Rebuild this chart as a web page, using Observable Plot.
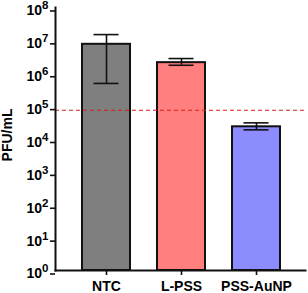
<!DOCTYPE html>
<html>
<head>
<meta charset="utf-8">
<script src="https://cdn.jsdelivr.net/npm/d3@7"></script>
<script src="https://cdn.jsdelivr.net/npm/@observablehq/plot@0.6"></script>
<style>
  html, body { margin: 0; padding: 0; background: #fff; }
  #chart svg, #chart svg text { font-family: "Liberation Sans", Arial, sans-serif !important; font-weight: bold !important; }
</style>
</head>
<body>
<div id="chart"></div>
<script>
const categories = ["NTC", "L-PSS", "PSS-AuNP"];
const means = [7.6e6, 2.1e6, 2.35e4];
const errLow = [4.9e5, 1.75e6, 1.9e4];
const errHigh = [1.5e7, 2.8e6, 3.1e4];
const barColors = ["#7f7f7f", "#ff7f7f", "#8c8cff"];
const threshold = 7.5e4;
const yTicks = [1e0, 1e1, 1e2, 1e3, 1e4, 1e5, 1e6, 1e7, 1e8];
const yLabel = "PFU/mL";

const data = categories.map((c, i) => ({
  cat: c, mean: means[i], lo: errLow[i], hi: errHigh[i], color: barColors[i]
}));

const chart = Plot.plot({
  width: 308,
  height: 293,
  marginLeft: 55,
  marginRight: 3,
  marginTop: 7,
  marginBottom: 23,
  style: {fontSize: "14px", color: "#000", background: "#fff"},
  x: {domain: categories, range: [68.5, 293.5], paddingInner: 0.36, paddingOuter: 0.18, align: 0.5},
  y: {type: "log", domain: [1, 1e8]},
  marks: [
    Plot.barY(data, {x: "cat", y1: 1, y2: "mean", fill: "color", stroke: "#111", strokeWidth: 2}),
    Plot.ruleX(data, {x: "cat", y1: "lo", y2: "hi", stroke: "#111", strokeWidth: 1.6}),
    Plot.tickY(data, {x: "cat", y: "lo", stroke: "#111", strokeWidth: 1.6, insetLeft: 11.5, insetRight: 11.5}),
    Plot.tickY(data, {x: "cat", y: "hi", stroke: "#111", strokeWidth: 1.6, insetLeft: 11.5, insetRight: 11.5}),
    Plot.ruleY([threshold], {stroke: "#d91c1c", strokeWidth: 1.2, strokeDasharray: "4,3"}),
    Plot.frame({anchor: "left", stroke: "#111", strokeWidth: 2}),
    Plot.frame({anchor: "bottom", stroke: "#111", strokeWidth: 2}),
    Plot.axisY({
      ticks: yTicks, tickSize: 5, tickPadding: 2, strokeWidth: 1.6, stroke: "#111", fontSize: 14, dy: 3.5,
      tickFormat: d => "10^" + Math.round(Math.log10(d)), label: null
    }),
    Plot.text([yLabel], {frameAnchor: "left", rotate: -90, dx: -48, dy: -4, fontSize: 14, textAnchor: "middle", lineAnchor: "middle", fill: "#000"}),
    Plot.axisX({tickSize: 5, tickPadding: 5.5, strokeWidth: 1.6, stroke: "#111", fontSize: 14, label: null})
  ]
});

document.getElementById("chart").appendChild(chart);

// Render the exponents as real superscripts
chart.querySelectorAll('g[aria-label="y-axis tick label"] text').forEach(t => {
  const m = /^10\^(\d+)$/.exec(t.textContent);
  if (!m) return;
  t.textContent = "10";
  const sup = document.createElementNS("http://www.w3.org/2000/svg", "tspan");
  sup.setAttribute("dy", "-6");
  sup.setAttribute("font-size", "11.5");
  sup.textContent = m[1];
  t.appendChild(sup);
});
</script>
</body>
</html>
